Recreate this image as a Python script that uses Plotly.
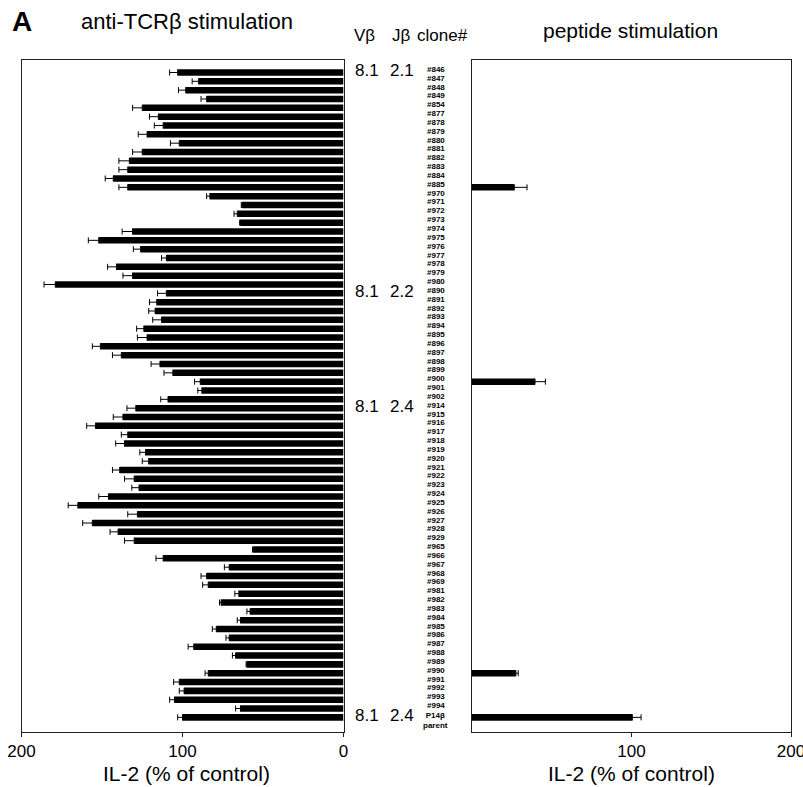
import plotly.graph_objects as go

W, H = 803, 787

# ---------------- data ----------------
clones_j21 = ["#846", "#847", "#848", "#849", "#854", "#877", "#878", "#879", "#880", "#881",
              "#882", "#883", "#884", "#885", "#970", "#971", "#972", "#973", "#974", "#975",
              "#976", "#977", "#978", "#979", "#980"]
clones_j22 = ["#890", "#891", "#892", "#893", "#894", "#895", "#896", "#897", "#898", "#899",
              "#900", "#901", "#902"]
clones_j24 = ["#914", "#915", "#916", "#917", "#918", "#919", "#920", "#921", "#922", "#923",
              "#924", "#925", "#926", "#927", "#928", "#929", "#965", "#966", "#967", "#968",
              "#969", "#981", "#982", "#983", "#984", "#985", "#986", "#987", "#988", "#989",
              "#990", "#991", "#992", "#993", "#994"]
clones_parent = ["P14β parent"]
clones = clones_j21 + clones_j22 + clones_j24 + clones_parent

# anti-TCRβ stimulation, IL-2 (% of control)
tcr_values = [103, 90, 98, 85, 125, 115, 112, 122, 102, 125,
              133, 134, 143, 134, 83, 63, 66, 64, 131, 152,
              126, 110, 141, 131, 179,
              110, 116, 117, 113, 124, 122, 151, 138, 114, 106,
              89, 88, 109,
              129, 137, 154, 134, 136, 123, 121, 139, 130, 127,
              146, 165, 128, 156, 140, 130, 56, 112, 71, 85,
              84, 65, 76, 58, 64, 79, 71, 93, 67, 60,
              84, 102, 99, 105, 64,
              100]
tcr_errors = [5, 4, 4.5, 3.5, 6, 5.5, 5.5, 5.5, 5.5, 6,
              6.5, 5.5, 5, 5.5, 2, 0.5, 2, 0.5, 6.5, 6.5,
              4.5, 3, 5.5, 6, 7,
              5.5, 4.5, 4, 5.5, 4.5, 6, 5, 5.5, 5.5, 5.5,
              3.5, 2.5, 4.5,
              5.5, 6, 5.5, 4, 5.5, 3.5, 4, 4.5, 6, 4.5,
              6, 6, 6, 6, 5, 6, 0.5, 4.5, 3, 3.5,
              3.5, 2.5, 1, 2, 2, 2.5, 2, 3.5, 2, 0.5,
              2, 3.5, 3, 3, 3,
              3]

# peptide stimulation, IL-2 (% of control)
pep_clones = ["#885", "#900", "#990", "P14β parent"]
pep_values = [26.5, 39.5, 27.5, 100.5]
pep_errors = [8, 6.5, 1.5, 5.5]

# Vβ / Jβ group labels (first clone of each group)
group_clones = ["#846", "#890", "#914", "P14β parent"]
group_vbeta = ["8.1", "8.1", "8.1", "8.1"]
group_jbeta = ["2.1", "2.2", "2.4", "2.4"]

left_ticks = [0, 100, 200]
right_ticks = [100, 200]

# ---------------- layout helpers ----------------
def px_x(x):
    return x / W

def px_y(y):
    return 1 - y / H

FONT = "Liberation Sans, Arial, Helvetica, sans-serif"
NARROW = "Liberation Sans Narrow, Arial Narrow, Liberation Sans, Arial, sans-serif"

fig = go.Figure()

fig.add_trace(go.Bar(
    y=clones, x=tcr_values, orientation="h",
    marker=dict(color="black", line=dict(width=0)),
    width=0.74,
    error_x=dict(type="data", array=tcr_errors, arrayminus=[0] * len(tcr_errors),
                 symmetric=False, color="black", thickness=1, width=3),
    xaxis="x", yaxis="y", showlegend=False,
))

fig.add_trace(go.Bar(
    y=pep_clones, x=pep_values, orientation="h",
    marker=dict(color="black", line=dict(width=0)),
    width=0.74,
    error_x=dict(type="data", array=pep_errors, arrayminus=[0] * len(pep_errors),
                 symmetric=False, color="black", thickness=1, width=3),
    xaxis="x2", yaxis="y2", showlegend=False,
))

plot_top, plot_bottom = 59.5, 731.5
left_l, left_r = 21.5, 343.5
right_l, right_r = 472, 791
yrange = [74.6, -1.47]

axis_common = dict(showline=True, linecolor="#222", linewidth=1, mirror=True,
                   showgrid=False, zeroline=False, automargin=False,
                   ticks="outside", ticklen=4, tickcolor="#222",
                   ticklabeloverflow="allow",
                   tickfont=dict(family=FONT, size=17, color="black"))

fig.update_layout(
    width=W, height=H,
    margin=dict(l=0, r=0, t=0, b=0),
    paper_bgcolor="white", plot_bgcolor="white",
    xaxis=dict(domain=[px_x(left_l), px_x(left_r)], range=[200, 0],
               tickvals=left_ticks, ticktext=[str(t) for t in left_ticks],
               anchor="y", **axis_common),
    yaxis=dict(domain=[px_y(plot_bottom), px_y(plot_top)], type="category",
               categoryorder="array", categoryarray=clones, range=yrange,
               showline=True, linecolor="#222", linewidth=1, mirror=True,
               showticklabels=False, ticks="", showgrid=False, zeroline=False,
               automargin=False, anchor="x"),
    xaxis2=dict(domain=[px_x(right_l), px_x(right_r)], range=[0, 200],
                tickvals=right_ticks, ticktext=[str(t) for t in right_ticks],
                anchor="y2", **axis_common),
    yaxis2=dict(domain=[px_y(plot_bottom), px_y(plot_top)], type="category",
                categoryorder="array", categoryarray=clones, range=yrange,
                showline=True, linecolor="#222", linewidth=1, mirror=True,
                showticklabels=False, ticks="", showgrid=False, zeroline=False,
                automargin=False, anchor="x2"),
)

ann = []

def text_ann(text, x, y, size, bold=False, family=FONT, xanchor="center"):
    if bold:
        text = "<b>" + text + "</b>"
    ann.append(dict(text=text, x=px_x(x), y=px_y(y), xref="paper", yref="paper",
                    xanchor=xanchor, yanchor="middle", showarrow=False,
                    font=dict(family=family, size=size, color="black")))

text_ann("A", 22, 21, 28, bold=True)
text_ann("anti-TCRβ stimulation", 187, 21, 22)
text_ann("Vβ", 364, 35, 17)
text_ann("Jβ", 401, 35, 17)
text_ann("clone#", 442, 35, 17)
text_ann("peptide stimulation", 630, 31, 21)
text_ann("IL-2 (% of control)", (left_l + left_r) / 2 + 4, 773, 21)
text_ann("IL-2 (% of control)", (right_l + right_r) / 2, 773, 21)

# clone labels
for c in clones:
    two_line = " " in c
    ann.append(dict(text="<b>" + c.replace(" ", "<br>") + "</b>", x=px_x(436), y=c,
                    xref="paper", yref="y",
                    xanchor="center", yanchor="middle", showarrow=False,
                    yshift=-3 if two_line else 3,
                    font=dict(family=NARROW, size=8, color="black")))

# Vβ / Jβ group labels
for c, v, j in zip(group_clones, group_vbeta, group_jbeta):
    for txt, xx in ((v, 367), (j, 402)):
        ann.append(dict(text=txt, x=px_x(xx), y=c, xref="paper", yref="y",
                        xanchor="center", yanchor="middle", showarrow=False, yshift=2,
                        font=dict(family=FONT, size=17, color="black")))

fig.update_layout(annotations=ann)

fig.write_html("out.html", config={"displayModeBar": False},
               post_script="document.body.style.margin='0px';document.body.style.overflow='hidden';")
